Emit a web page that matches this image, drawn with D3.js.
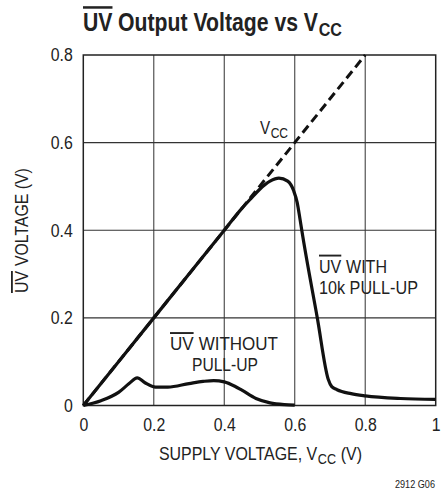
<!DOCTYPE html>
<html><head><meta charset="utf-8">
<script src="https://cdn.jsdelivr.net/npm/d3@7"></script>
<style>
body{margin:0;background:#fff;}
text{font-family:"Liberation Sans",Arial,Helvetica,sans-serif;fill:#222;}
</style></head>
<body><div id="chart"></div>
<script>
const xTicks = [0, 0.2, 0.4, 0.6, 0.8, 1];
const xTickLabels = ["0", "0.2", "0.4", "0.6", "0.8", "1"];
const yTicks = [0, 0.2, 0.4, 0.6, 0.8];
const yTickLabels = ["0", "0.2", "0.4", "0.6", "0.8"];

// Vcc reference line (dashed)
const vccX = [0, 0.8];
const vccY = [0, 0.8];

// UV with 10k pull-up
const pullX = [0, 0.2, 0.4, 0.45, 0.48, 0.5, 0.53, 0.555, 0.58, 0.597, 0.607, 0.615, 0.623, 0.664, 0.695, 0.705, 0.72, 0.76, 0.8, 0.9, 1.0];
const pullY = [0, 0.2, 0.4, 0.45, 0.476, 0.493, 0.512, 0.519, 0.512, 0.49, 0.463, 0.425, 0.385, 0.2, 0.06, 0.043, 0.036, 0.027, 0.022, 0.016, 0.014];

// UV without pull-up
const noPullX = [0, 0.05, 0.1, 0.13, 0.153, 0.175, 0.205, 0.24, 0.3, 0.34, 0.37, 0.4, 0.43, 0.45, 0.49, 0.53, 0.57, 0.6];
const noPullY = [0, 0.011, 0.03, 0.05, 0.063, 0.052, 0.042, 0.042, 0.05, 0.055, 0.057, 0.054, 0.044, 0.035, 0.016, 0.006, 0.002, 0.001];

const W = 448, H = 492;
const m = {left: 83.3, right: 448 - 435.7, top: 55, bottom: 492 - 405.5};
const svg = d3.select("#chart").append("svg").attr("width", W).attr("height", H);

const x = d3.scaleLinear().domain([0, 1]).range([m.left, W - m.right]);
const y = d3.scaleLinear().domain([0, 0.8]).range([H - m.bottom, m.top]);

function condense(sel, f) {
  sel.each(function() {
    const n = this.getComputedTextLength();
    d3.select(this).attr("textLength", n * f).attr("lengthAdjust", "spacingAndGlyphs");
  });
}

// rich text: pieces laid out side by side at natural width, then the group is squeezed horizontally
function rich(parent, parts, targetW, weight) {
  const outer = parent.append("g");
  const inner = outer.append("g");
  const nodes = parts.map(p => {
    const t = inner.append("text").attr("font-size", p.size).attr("y", p.dy || 0).text(p.t);
    if (weight) t.attr("font-weight", weight);
    if (p.over) t.style("text-decoration", "overline");
    return t;
  });
  let cx = 0;
  nodes.forEach((n, i) => {
    if (parts[i].gap) cx += parts[i].gap;
    n.attr("x", cx);
    cx += n.node().getComputedTextLength() + 0.6;
  });
  const total = cx - 0.6;
  const f = targetW / total;
  inner.attr("transform", `scale(${f},1)`);
  return {g: outer, w: targetW};
}
function place(r, px, py, anchor) {
  const off = anchor === "middle" ? -r.w / 2 : anchor === "end" ? -r.w : 0;
  r.g.attr("transform", `translate(${px + off},${py})`);
}

// grid
const g = svg.append("g");
g.selectAll(".vg").data(xTicks.slice(1, -1)).enter().append("line")
  .attr("x1", d => x(d)).attr("x2", d => x(d)).attr("y1", y(0)).attr("y2", y(0.8))
  .attr("stroke", "#444").attr("stroke-width", 1.1);
g.selectAll(".hg").data(yTicks.slice(1, -1)).enter().append("line")
  .attr("y1", d => y(d)).attr("y2", d => y(d)).attr("x1", x(0)).attr("x2", x(1))
  .attr("stroke", "#333").attr("stroke-width", 1.1);
g.append("rect").attr("x", x(0)).attr("y", y(0.8)).attr("width", x(1) - x(0)).attr("height", y(0) - y(0.8))
  .attr("fill", "none").attr("stroke", "#222").attr("stroke-width", 1.5);

// axes (labels only)
const xAxis = d3.axisBottom(x).tickValues(xTicks).tickFormat((d, i) => xTickLabels[i]).tickSize(0).tickPadding(13);
const xa = svg.append("g").attr("transform", `translate(0,${y(0)})`).call(xAxis);
xa.select(".domain").remove();
xa.attr("font-family", null);
xa.selectAll("text").attr("font-size", 18).attr("fill", "#222").call(condense, 0.88);

const yAxis = d3.axisLeft(y).tickValues(yTicks).tickFormat((d, i) => yTickLabels[i]).tickSize(0).tickPadding(10.5);
const ya = svg.append("g").attr("transform", `translate(${x(0)},0)`).call(yAxis);
ya.select(".domain").remove();
ya.attr("font-family", null);
ya.selectAll("text").attr("font-size", 18).attr("fill", "#222").call(condense, 0.88);

// lines
const line = d3.line().x(d => x(d[0])).y(d => y(d[1]));
svg.append("path").datum(vccX.map((v, i) => [v, vccY[i]])).attr("d", line)
  .attr("fill", "none").attr("stroke", "#111").attr("stroke-width", 3).attr("stroke-dasharray", "9,5");
const cline = d3.line().x(d => x(d[0])).y(d => y(d[1])).curve(d3.curveMonotoneX);
svg.append("path").datum(pullX.map((v, i) => [v, pullY[i]])).attr("d", cline)
  .attr("fill", "none").attr("stroke", "#111").attr("stroke-width", 3.2).attr("stroke-linejoin", "round");
svg.append("path").datum(noPullX.map((v, i) => [v, noPullY[i]])).attr("d", cline)
  .attr("fill", "none").attr("stroke", "#111").attr("stroke-width", 3.2).attr("stroke-linejoin", "round");

// title
place(rich(svg, [
  {t: "UV", size: 25, over: true},
  {t: "Output Voltage vs V", size: 25, gap: 6},
  {t: "CC", size: 19, dy: 5}
], 259, "bold"), 83, 31, "start");

// y label
const yl = rich(svg, [
  {t: "UV", size: 18, over: true},
  {t: "VOLTAGE (V)", size: 18, gap: 5}
], 125);
yl.g.attr("transform", `translate(28,${(168 + 293) / 2}) rotate(-90) translate(${-125 / 2},0)`);

// x label
place(rich(svg, [
  {t: "SUPPLY VOLTAGE, V", size: 19},
  {t: "CC", size: 15, dy: 4},
  {t: "(V)", size: 19, gap: 5}
], 203), 260.5, 460, "middle");

// footnote
place(rich(svg, [{t: "2912 G06", size: 11.5}], 40), 435, 488, "end");

// annotations
place(rich(svg, [{t: "V", size: 19}, {t: "CC", size: 15, dy: 4}], 28), 260, 134, "start");

place(rich(svg, [{t: "UV", size: 19, over: true}, {t: "WITHOUT", size: 19, gap: 5}], 108), 224, 350, "middle");
place(rich(svg, [{t: "PULL-UP", size: 19}], 66), 225, 371, "middle");

place(rich(svg, [{t: "UV", size: 19, over: true}, {t: "WITH", size: 19, gap: 5}], 68), 319, 273, "start");
place(rich(svg, [{t: "10k PULL-UP", size: 19}], 99), 319, 294, "start");
</script></body></html>
